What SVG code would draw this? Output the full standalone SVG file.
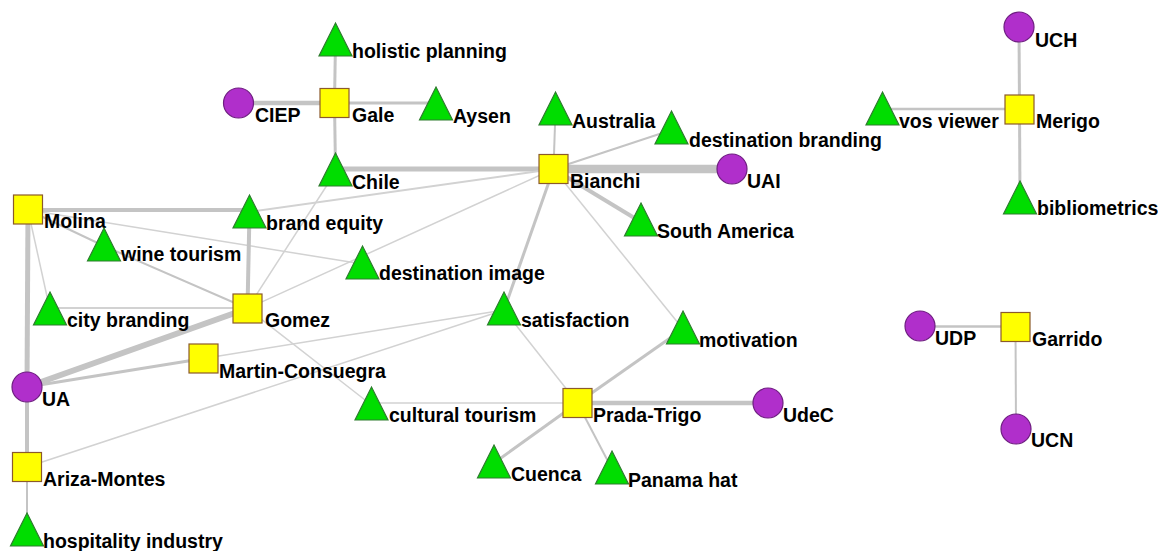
<svg xmlns="http://www.w3.org/2000/svg" xmlns:xlink="http://www.w3.org/1999/xlink" width="1158" height="551" viewBox="0 0 1158 551">
<style>
.e{stroke:#C4C4C4;fill:none;stroke-linecap:butt}
.t{stroke:#D2D2D2}
.sq{fill:#FFFF00;stroke:#8B5A2B;stroke-width:1.2}
.tri{fill:#00DD00;stroke:#2E7D2E;stroke-width:1.2}
.cir{fill:#B02FCB;stroke:#6E1E80;stroke-width:1.2}
text{font-family:"Liberation Sans",Arial,sans-serif;font-weight:bold;font-size:19.5px;fill:#000}
</style>
<defs>
<rect id="s" x="0" y="0" width="29" height="29"/>
<polygon id="tr" points="0,0 16.5,33 -16.5,33"/>
<circle id="c" cx="0" cy="0" r="15"/>
</defs>
<rect width="1158" height="551" fill="#FFFFFF"/>
<g id="connectors">
<line class="e" x1="335.5" y1="40" x2="334.5" y2="103" stroke-width="3"/>
<line class="e" x1="238.5" y1="103" x2="334.5" y2="103" stroke-width="4.5"/>
<line class="e" x1="334.5" y1="103" x2="436" y2="103" stroke-width="3"/>
<line class="e" x1="334.5" y1="103" x2="335.5" y2="170" stroke-width="3"/>
<line class="e" x1="335.5" y1="169" x2="553.5" y2="169" stroke-width="5"/>
<line class="e" x1="555.5" y1="110" x2="553.5" y2="169" stroke-width="2"/>
<line class="e" x1="671.5" y1="130" x2="553.5" y2="169" stroke-width="2"/>
<line class="e" x1="553.5" y1="169" x2="732" y2="169" stroke-width="8.5"/>
<line class="e" x1="553.5" y1="169" x2="641" y2="222" stroke-width="4"/>
<line class="e t" x1="553.5" y1="169" x2="249.5" y2="212" stroke-width="2"/>
<line class="e t" x1="553.5" y1="169" x2="247.5" y2="308.5" stroke-width="1.5"/>
<line class="e" x1="553.5" y1="169" x2="504" y2="310" stroke-width="3"/>
<line class="e t" x1="553.5" y1="169" x2="683" y2="329" stroke-width="1.5"/>
<line class="e" x1="28" y1="210" x2="249.5" y2="210" stroke-width="4"/>
<line class="e" x1="28" y1="210" x2="27" y2="387" stroke-width="5"/>
<line class="e" x1="27" y1="387" x2="27" y2="467" stroke-width="4"/>
<line class="e" x1="27" y1="467" x2="27" y2="530" stroke-width="2"/>
<line class="e" x1="28" y1="210" x2="104" y2="246" stroke-width="2"/>
<line class="e" x1="104" y1="246" x2="247.5" y2="308.5" stroke-width="2"/>
<line class="e t" x1="28" y1="210" x2="362.5" y2="264" stroke-width="1.5"/>
<line class="e t" x1="28" y1="210" x2="50" y2="310" stroke-width="1.5"/>
<line class="e" x1="249.5" y1="212" x2="247.5" y2="308.5" stroke-width="4"/>
<line class="e t" x1="50" y1="308" x2="247.5" y2="308" stroke-width="2"/>
<line class="e" x1="27" y1="387" x2="247.5" y2="308.5" stroke-width="6"/>
<line class="e t" x1="247.5" y1="308.5" x2="335.5" y2="172" stroke-width="1.5"/>
<line class="e t" x1="247.5" y1="308.5" x2="371.5" y2="405" stroke-width="1.5"/>
<line class="e" x1="27" y1="387" x2="203.5" y2="358.5" stroke-width="3"/>
<line class="e t" x1="203.5" y1="358.5" x2="504" y2="310" stroke-width="1.5"/>
<line class="e t" x1="27" y1="467" x2="504" y2="310" stroke-width="1.5"/>
<line class="e t" x1="504" y1="310" x2="577.5" y2="403" stroke-width="1.5"/>
<line class="e" x1="577.5" y1="403" x2="683" y2="329" stroke-width="3"/>
<line class="e" x1="577.5" y1="403" x2="768" y2="403" stroke-width="4.5"/>
<line class="e t" x1="371.5" y1="403" x2="577.5" y2="403" stroke-width="1.5"/>
<line class="e" x1="577.5" y1="403" x2="494" y2="463" stroke-width="3"/>
<line class="e" x1="577.5" y1="403" x2="612" y2="469" stroke-width="2"/>
<line class="e" x1="1019" y1="27" x2="1019.5" y2="109.5" stroke-width="3"/>
<line class="e" x1="882.5" y1="109" x2="1019.5" y2="109" stroke-width="2.5"/>
<line class="e" x1="1019.5" y1="109.5" x2="1020" y2="199" stroke-width="3"/>
<line class="e" x1="920" y1="326.5" x2="1015.5" y2="326.5" stroke-width="2.5"/>
<line class="e" x1="1015.5" y1="326.5" x2="1016" y2="429" stroke-width="2"/>
</g>
<g id="n-holistic-planning"><use href="#tr" class="tri" x="335.5" y="23"/><text x="352" y="58">holistic planning</text></g>
<g id="n-CIEP"><use href="#c" class="cir" x="238.5" y="103"/><text x="255" y="122">CIEP</text></g>
<g id="n-Gale"><use href="#s" class="sq" x="320" y="88.5"/><text x="352" y="122">Gale</text></g>
<g id="n-Aysen"><use href="#tr" class="tri" x="436" y="87"/><text x="453" y="123">Aysen</text></g>
<g id="n-Australia"><use href="#tr" class="tri" x="555.5" y="92"/><text x="572" y="128">Australia</text></g>
<g id="n-destination-branding"><use href="#tr" class="tri" x="671.5" y="111"/><text x="689" y="147">destination branding</text></g>
<g id="n-Chile"><use href="#tr" class="tri" x="335.5" y="153"/><text x="352" y="189">Chile</text></g>
<g id="n-Bianchi"><use href="#s" class="sq" x="539" y="154.5"/><text x="570" y="188">Bianchi</text></g>
<g id="n-UAI"><use href="#c" class="cir" x="732" y="169"/><text x="747" y="188">UAI</text></g>
<g id="n-South-America"><use href="#tr" class="tri" x="641" y="203"/><text x="657" y="238">South America</text></g>
<g id="n-UCH"><use href="#c" class="cir" x="1019" y="27"/><text x="1035" y="47">UCH</text></g>
<g id="n-vos-viewer"><use href="#tr" class="tri" x="882.5" y="92"/><text x="899" y="128">vos viewer</text></g>
<g id="n-Merigo"><use href="#s" class="sq" x="1005" y="95"/><text x="1036" y="128">Merigo</text></g>
<g id="n-bibliometrics"><use href="#tr" class="tri" x="1020" y="181"/><text x="1037" y="215">bibliometrics</text></g>
<g id="n-Molina"><use href="#s" class="sq" x="13.5" y="195"/><text x="44" y="228">Molina</text></g>
<g id="n-brand-equity"><use href="#tr" class="tri" x="249.5" y="195"/><text x="266" y="230">brand equity</text></g>
<g id="n-wine-tourism"><use href="#tr" class="tri" x="104" y="228"/><text x="121" y="261">wine tourism</text></g>
<g id="n-destination-image"><use href="#tr" class="tri" x="362.5" y="246"/><text x="379" y="280">destination image</text></g>
<g id="n-city-branding"><use href="#tr" class="tri" x="50" y="292"/><text x="67" y="327">city branding</text></g>
<g id="n-Gomez"><use href="#s" class="sq" x="233" y="294"/><text x="265" y="327">Gomez</text></g>
<g id="n-satisfaction"><use href="#tr" class="tri" x="504" y="292"/><text x="521" y="327">satisfaction</text></g>
<g id="n-motivation"><use href="#tr" class="tri" x="683" y="311"/><text x="699" y="347">motivation</text></g>
<g id="n-Martin-Consuegra"><use href="#s" class="sq" x="189" y="344"/><text x="219" y="378">Martin-Consuegra</text></g>
<g id="n-UA"><use href="#c" class="cir" x="27" y="387"/><text x="42" y="406">UA</text></g>
<g id="n-cultural-tourism"><use href="#tr" class="tri" x="371.5" y="387"/><text x="389" y="422">cultural tourism</text></g>
<g id="n-Prada-Trigo"><use href="#s" class="sq" x="563" y="388.5"/><text x="593" y="422">Prada-Trigo</text></g>
<g id="n-UdeC"><use href="#c" class="cir" x="768" y="403"/><text x="783" y="422">UdeC</text></g>
<g id="n-Cuenca"><use href="#tr" class="tri" x="494" y="445"/><text x="511" y="481">Cuenca</text></g>
<g id="n-Panama-hat"><use href="#tr" class="tri" x="612" y="451"/><text x="628" y="487">Panama hat</text></g>
<g id="n-Ariza-Montes"><use href="#s" class="sq" x="12.5" y="452.5"/><text x="43" y="486">Ariza-Montes</text></g>
<g id="n-hospitality-industry"><use href="#tr" class="tri" x="27" y="513"/><text x="43" y="548">hospitality industry</text></g>
<g id="n-UDP"><use href="#c" class="cir" x="920" y="326"/><text x="935" y="345">UDP</text></g>
<g id="n-Garrido"><use href="#s" class="sq" x="1001" y="312.5"/><text x="1032" y="346">Garrido</text></g>
<g id="n-UCN"><use href="#c" class="cir" x="1016" y="429"/><text x="1031" y="447">UCN</text></g>
</svg>
